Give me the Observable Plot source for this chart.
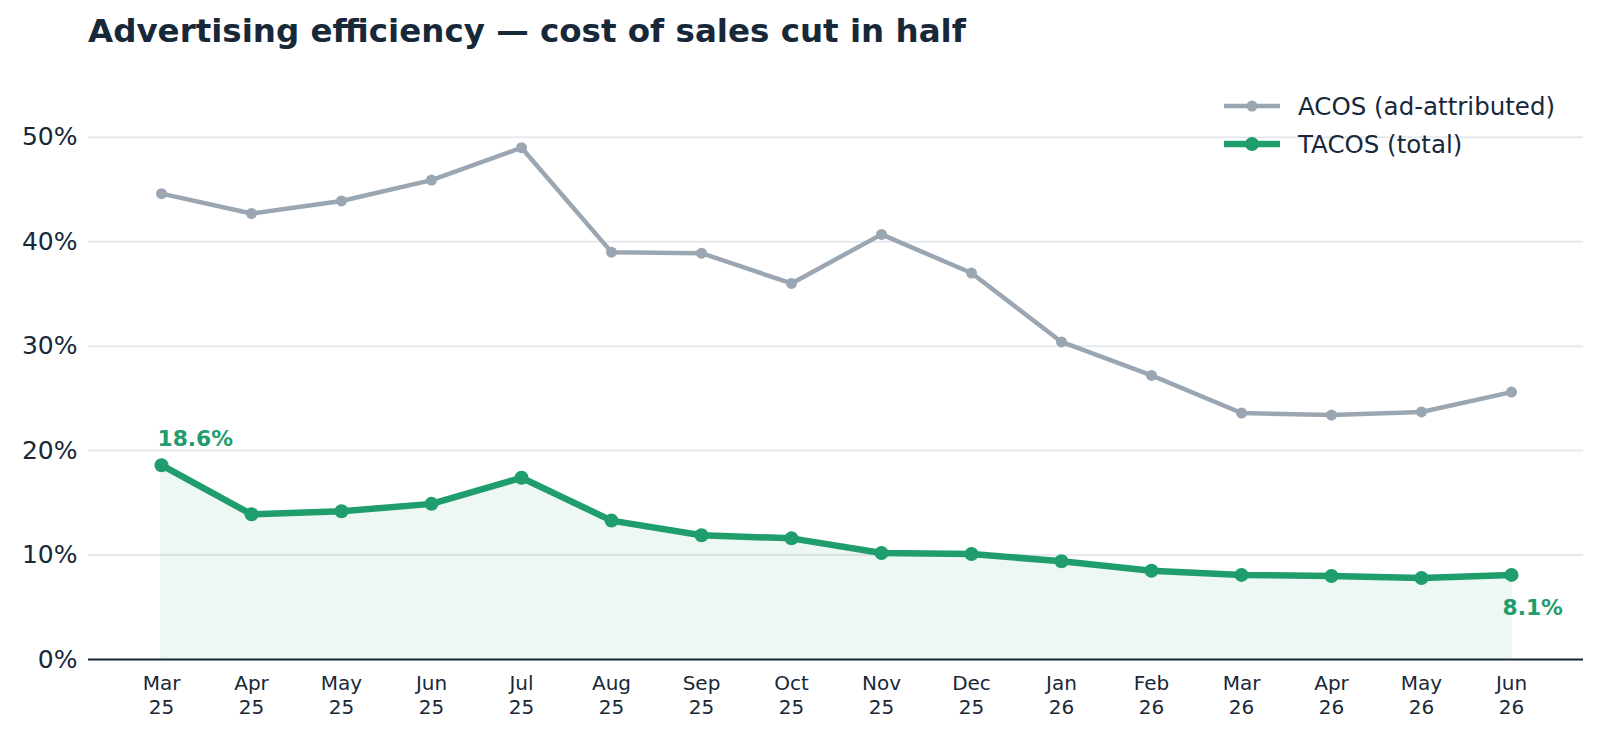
<!DOCTYPE html>
<html>
<head>
<meta charset="utf-8">
<script src="https://cdn.jsdelivr.net/npm/d3@7"></script>
<script src="https://cdn.jsdelivr.net/npm/@observablehq/plot@0.6"></script>
<style>
  html, body { margin: 0; padding: 0; background: #ffffff; }
  body { font-family: "DejaVu Sans", sans-serif; color: #172839; }
  #wrap { position: relative; width: 1600px; height: 733px; }
  #title { position: relative; height: 60px; }
  #title span { position: absolute; left: 88px; top: 15px; font-size: 32.5px; line-height: 1; font-weight: bold; color: #172839; white-space: nowrap; }
  #legend { position: absolute; left: 1224px; top: 87px; }
  .row { display: flex; align-items: center; height: 38px; }
  .row svg { display: block; margin-right: 18px; }
  .row span { font-size: 24.5px; line-height: 38px; color: #172839; white-space: nowrap; position: relative; top: 1px; }
</style>
</head>
<body>
<div id="wrap">
  <div id="title"><span>Advertising efficiency — cost of sales cut in half</span></div>
  <div id="chart"></div>
  <div id="legend"></div>
</div>
<script>
// ---- data ----
const months = ["Mar","Apr","May","Jun","Jul","Aug","Sep","Oct","Nov","Dec","Jan","Feb","Mar","Apr","May","Jun"];
const years  = ["25","25","25","25","25","25","25","25","25","25","26","26","26","26","26","26"];
const acos   = [44.6, 42.7, 43.9, 45.9, 49.0, 39.0, 38.9, 36.0, 40.7, 37.0, 30.4, 27.2, 23.6, 23.4, 23.7, 25.6];
const tacos  = [18.6, 13.9, 14.2, 14.9, 17.4, 13.3, 11.9, 11.6, 10.2, 10.1, 9.4, 8.5, 8.1, 8.0, 7.8, 8.1];
const yTicks = [0, 10, 20, 30, 40, 50];
const seriesNames = ["ACOS (ad-attributed)", "TACOS (total)"];

const GRAY = "#9aa6b2";
const GREEN = "#1f9d6c";
const INK = "#172839";

const labels = months.map((m, i) => m + "\n" + years[i]);
const data = labels.map((label, i) => ({label, acos: acos[i], tacos: tacos[i]}));
const first = data[0];
const last = data[data.length - 1];

const chart = Plot.plot({
  width: 1600,
  height: 673,
  marginTop: 12,
  marginBottom: 74,
  marginLeft: 88,
  marginRight: 17,
  style: {fontFamily: "DejaVu Sans, sans-serif", color: INK, background: "#ffffff"},
  x: {type: "point", domain: labels, padding: 0.757, label: null},
  y: {domain: [0, 56.2], label: null},
  marks: [
    Plot.gridY(yTicks.filter(d => d > 0), {stroke: "#e6eaee", strokeOpacity: 1, strokeWidth: 2}),
    Plot.areaY(data, {x: "label", y: "tacos", fill: GREEN, fillOpacity: 0.08, stroke: GREEN, strokeOpacity: 0.08, strokeWidth: 1}),
    Plot.ruleY([0], {stroke: INK, strokeWidth: 2}),
    Plot.lineY(data, {x: "label", y: "acos", stroke: GRAY, strokeWidth: 4.5}),
    Plot.dot(data, {x: "label", y: "acos", r: 5.5, fill: GRAY, stroke: null}),
    Plot.lineY(data, {x: "label", y: "tacos", stroke: GREEN, strokeWidth: 6.5}),
    Plot.dot(data, {x: "label", y: "tacos", r: 7, fill: GREEN, stroke: null}),
    Plot.text([first], {x: "label", y: "tacos", text: d => d.tacos.toFixed(1) + "%", textAnchor: "start", dx: -4, dy: -26, fontSize: 21.8, fontWeight: "bold", fill: GREEN}),
    Plot.text([last], {x: "label", y: "tacos", text: d => d.tacos.toFixed(1) + "%", textAnchor: "start", dx: -9, dy: 33.6, fontSize: 21.8, fontWeight: "bold", fill: GREEN}),
    Plot.axisY({ticks: yTicks, tickFormat: d => d + "%", tickSize: 0, tickPadding: 11, fontSize: 25, fill: INK, label: null}),
    Plot.axisX({tickSize: 0, tickPadding: 13.5, fontSize: 20, lineHeight: 1.2, fill: INK, label: null})
  ]
});
document.getElementById("chart").appendChild(chart);

// ---- legend ----
const legend = document.getElementById("legend");
const legendStyles = [
  {color: GRAY, width: 4.5, r: 5.5},
  {color: GREEN, width: 6.5, r: 7}
];
seriesNames.forEach((name, i) => {
  const s = legendStyles[i];
  const row = document.createElement("div");
  row.className = "row";
  row.innerHTML =
    `<svg width="56" height="38"><line x1="0" x2="56" y1="19" y2="19" stroke="${s.color}" stroke-width="${s.width}"/>` +
    `<circle cx="28" cy="19" r="${s.r}" fill="${s.color}"/></svg><span>${name}</span>`;
  legend.appendChild(row);
});
</script>
</body>
</html>
